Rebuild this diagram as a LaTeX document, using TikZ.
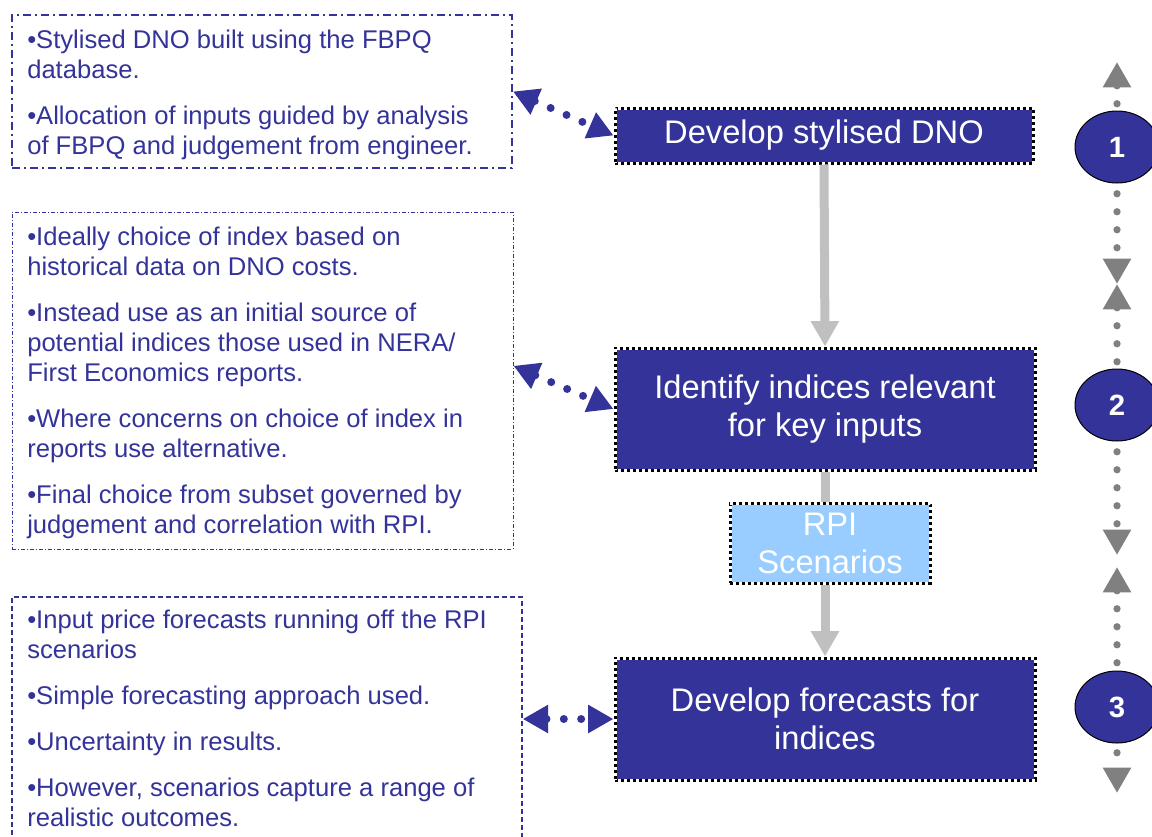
\documentclass[tikz,border=0pt]{standalone}
\usepackage{fontspec}
\setmainfont{Liberation Sans}
\usetikzlibrary{arrows.meta,shapes.geometric}
\definecolor{navy}{HTML}{333399}
\definecolor{skyfill}{HTML}{99CCFF}
\definecolor{flowgrey}{HTML}{C0C0C0}
\definecolor{dotgrey}{HTML}{808080}
\begin{document}
\begin{tikzpicture}[x=0.75pt,y=-0.75pt,
  dotborder/.style={draw=black, line width=2.25pt, dash pattern=on 2.25pt off 2.25pt,
    postaction={draw=white, line width=2.25pt, dash pattern=on 2.25pt off 2.25pt, dash phase=2.25pt}},
  stepbox/.style={dotborder, fill=navy, text=white, align=center, inner sep=0pt,
    font=\fontsize{24.5}{28.5}\selectfont},
  scenbox/.style={dotborder, fill=skyfill, text=white, align=center, inner sep=0pt,
    font=\fontsize{24.5}{28.5}\selectfont},
  noteA/.style={draw=navy, line width=1.5pt, dash pattern=on 6pt off 3pt on 1.5pt off 3pt},
  noteB/.style={draw=navy, line width=0.75pt, dash pattern=on 3pt off 1.5pt on 0.75pt off 1.5pt},
  noteC/.style={draw=navy, line width=1.1pt, dash pattern=on 3.75pt off 2.25pt},
  notetext/.style={text=navy, align=left, inner sep=0pt, anchor=north west,
    font=\fontsize{19.2}{22.5}\selectfont},
  stage/.style={ellipse, draw=black, line width=0.75pt, fill=navy, text=white,
    minimum width=63pt, minimum height=54pt, inner sep=0pt,
    font=\fontsize{22}{26}\selectfont\bfseries},
  bluelink/.style={navy, line width=6pt, line cap=round, dash pattern=on 0pt off 13pt,
    arrows={Triangle[width=20pt,length=19pt]-Triangle[width=20pt,length=19pt]}},
  flowarrow/.style={flowgrey, line width=6.75pt,
    arrows={-Triangle[width=20pt,length=19pt]}},
  greydots/.style={dotgrey, line width=5.5pt, line cap=round, dash pattern=on 0pt off 13.5pt,
    arrows={Triangle[width=20pt,length=19pt]-Triangle[width=20pt,length=19pt]}}
]
\useasboundingbox (0,0) rectangle (1152,836);
\clip (0,0) rectangle (1152,836);

% note frames on the left
\node[noteA, minimum width=375pt, minimum height=114.75pt] (boxA) at (262,91.5) {};
\node[noteB, minimum width=375.75pt, minimum height=252.75pt] (boxB) at (262.5,380.5) {};
\node[noteC, minimum width=382.5pt, minimum height=212.25pt] (boxC) at (267,738.5) {};

% note texts
\node[notetext] (txtA) at (27,27) {\strut•Stylised DNO built using the FBPQ\\database.\\[12pt]
  •Allocation of inputs guided by analysis\\of FBPQ and judgement from engineer.};
\node[notetext] (txtB) at (27,224) {\strut•Ideally choice of index based on\\historical data on DNO costs.\\[12pt]
  •Instead use as an initial source of\\potential indices those used in NERA/\\First Economics reports.\\[12pt]
  •Where concerns on choice of index in\\reports use alternative.\\[12pt]
  •Final choice from subset governed by\\judgement and correlation with RPI.};
\node[notetext] (txtC) at (27,607) {\strut•Input price forecasts running off the RPI\\scenarios\\[12pt]
  •Simple forecasting approach used.\\[12pt]
  •Uncertainty in results.\\[12pt]
  •However, scenarios capture a range of\\realistic outcomes.};

% process steps
\node[stepbox, minimum width=313.5pt, minimum height=41.25pt] (box1) at (824,135.5) {Develop stylised DNO};
\node[stepbox, minimum width=315pt, minimum height=91.5pt] (box2) at (825,409) {Identify indices relevant\\for key inputs};
\node[stepbox, minimum width=315pt, minimum height=91.5pt] (box3) at (825,719) {Develop forecasts for\\indices};

% flow between steps
\draw[flowarrow] (box1.south) -- (box2.north);
\draw[flowarrow] (box2.south) -- (box3.north);
\node[scenbox, minimum width=150pt, minimum height=60pt] (rpi) at (830,543) {RPI\\Scenarios};

% links between notes and steps
\draw[bluelink] (boxA.east) -- (box1.west);
\draw[bluelink] ([yshift=11pt]boxB.east) -- (box2.west);
\draw[bluelink] (boxC.east |- box3.west) -- (box3.west);

% stage markers on the right
\coordinate (s1top) at (1117,62);
\coordinate (s1bot) at (1117,284);
\coordinate (s2top) at (1117,284);
\coordinate (s2bot) at (1117,555);
\coordinate (s3top) at (1117,567);
\coordinate (s3bot) at (1117,793);
\draw[greydots] (s1top) -- (s1bot);
\draw[greydots] (s2top) -- (s2bot);
\draw[greydots] (s3top) -- (s3bot);
\node[stage] (st1) at (1117,147) {1};
\node[stage] (st2) at (1117,405) {2};
\node[stage] (st3) at (1117,707) {3};
\end{tikzpicture}
\end{document}
